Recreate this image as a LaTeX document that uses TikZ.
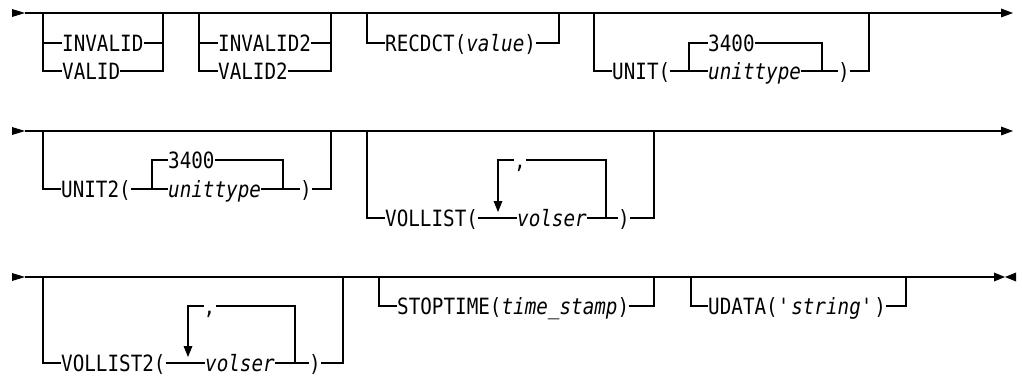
\documentclass[tikz,border=0pt]{standalone}
\usepackage{fontspec}
\newfontfamily\railfont{DejaVu Sans Mono}[FakeStretch=0.86]
\usetikzlibrary{calc}

\tikzset{
  kw/.style={anchor=west, inner sep=0pt, text height=16.3pt, text depth=0pt, font=\railfont\fontsize{22.4}{26}\selectfont},
  var/.style={kw, font=\railfont\itshape\fontsize{22.4}{26}\selectfont},
  rail/.style={line width=1.1pt, black},
}

\begin{document}
\begin{tikzpicture}[x=1pt,y=-1pt]
    \useasboundingbox (0,0) rectangle (1022,377);
    % row 1
    \coordinate (s1) at (25,13); \coordinate (e1) at (1001,13);
    \draw[rail] (s1) -- (e1);
    \coordinate (a1) at (43,13); \coordinate (b1) at (163,13);
    \node[kw] (inv) at (62,43) {INVALID}; \node[kw] (val) at (62,71) {VALID};
    \draw[rail] (a1) |- (val.west); \draw[rail] (a1 |- inv) -- (inv.west);
    \draw[rail] (inv.east) -- (b1 |- inv); \draw[rail] (val.east) -| (b1);
    \coordinate (a2) at (199,13); \coordinate (b2) at (331,13);
    \node[kw] (inv2) at (218,43) {INVALID2}; \node[kw] (val2) at (218,71) {VALID2};
    \draw[rail] (a2) |- (val2.west); \draw[rail] (a2 |- inv2) -- (inv2.west);
    \draw[rail] (inv2.east) -- (b2 |- inv2); \draw[rail] (val2.east) -| (b2);
    \coordinate (a3) at (367,13); \coordinate (b3) at (559,13);
    \node[kw] (rec) at (385,43) {RECDCT(\textit{value})};
    \draw[rail] (a3) |- (rec.west); \draw[rail] (rec.east) -| (b3);
    \coordinate (a4) at (594,13); \coordinate (b4) at (869,13);
    \coordinate (i1) at (689,43); \coordinate (i2) at (822,43);
    \node[kw] (unit) at (612,71) {UNIT(};
    \node[kw] (dflt) at (708,43) {3400}; \node[var] (utype) at (708,71) {unittype};
    \node[kw] (ucls) at (838,71) {)};
    \draw[rail] (a4) |- (unit.west); \draw[rail] (unit.east) -| (i1) -- (dflt.west);
    \draw[rail] (dflt.east) -- (i2) |- (ucls.west);
    \draw[rail] (utype.west) -- (i1 |- utype); \draw[rail] (utype.east) -- (i2 |- utype);
    \draw[rail] (ucls.east) -| (b4);

    % row 2
    \coordinate (s2) at (25,131); \coordinate (e2) at (1001,131);
    \draw[rail] (s2) -- (e2);
    \coordinate (a5) at (43,131); \coordinate (b5) at (331,131);
    \coordinate (i3) at (152,160); \coordinate (i4) at (283,160);
    \node[kw] (unit2) at (61,189) {UNIT2(};
    \node[kw] (dflt2) at (168,160) {3400}; \node[var] (utype2) at (168,189) {unittype};
    \node[kw] (ucls2) at (300,189) {)};
    \draw[rail] (a5) |- (unit2.west); \draw[rail] (unit2.east) -| (i3) -- (dflt2.west);
    \draw[rail] (dflt2.east) -- (i4) |- (ucls2.west);
    \draw[rail] (utype2.west) -- (i3 |- utype2); \draw[rail] (utype2.east) -- (i4 |- utype2);
    \draw[rail] (ucls2.east) -| (b5);
    \coordinate (a6) at (367,131); \coordinate (b6) at (654,131);
    \coordinate (l1) at (498,160); \coordinate (l2) at (606,160);
    \node[kw] (vol) at (385,218) {VOLLIST(}; \node[var] (volser) at (517,218) {volser};
    \node[kw] (sep) at (514,160) {,}; \node[kw] (vcls) at (618,218) {)};
    \draw[rail] (a6) |- (vol.west); \draw[rail] (vol.east) -- (volser.west);
    \draw[rail] (volser.east) -| (l2) -- (sep.east); \draw[rail] (sep.west) -- (l1) -- (498,202);
    \fill (493.5,201) -- (502.5,201) -- (498,212) -- cycle;
    \draw[rail] (l2 |- volser) -- (vcls.west); \draw[rail] (vcls.east) -| (b6);

    % row 3
    \coordinate (s3) at (25,277); \coordinate (e3) at (995,277);
    \draw[rail] (s3) -- (e3); \draw[line width=2pt] (910,277) -- (935,277);
    \coordinate (a7) at (43,277); \coordinate (b7) at (343,277);
    \coordinate (l3) at (188,306); \coordinate (l4) at (295,306);
    \node[kw] (vol2) at (61,363) {VOLLIST2(}; \node[var] (volser2) at (205,363) {volser};
    \node[kw] (sep2) at (203.5,306) {,}; \node[kw] (vcls2) at (309,363) {)};
    \draw[rail] (a7) |- (vol2.west); \draw[rail] (vol2.east) -- (volser2.west);
    \draw[rail] (volser2.east) -| (l4) -- (sep2.east); \draw[rail] (sep2.west) -- (l3) -- (188,347);
    \fill (183.5,346) -- (192.5,346) -- (188,357) -- cycle;
    \draw[rail] (l4 |- volser2) -- (vcls2.west); \draw[rail] (vcls2.east) -| (b7);
    \coordinate (a8) at (379,277); \coordinate (b8) at (654,277);
    \node[kw] (stop) at (397,306) {STOPTIME(\textit{time\_stamp})};
    \draw[rail] (a8) |- (stop.west); \draw[rail] (stop.east) -| (b8);
    \coordinate (a9) at (691,277); \coordinate (b9) at (906,277);
    \node[kw] (udata) at (708,306) {UDATA(\textquotesingle\textit{string}\textquotesingle)};
    \draw[rail] (a9) |- (udata.west); \draw[rail] (udata.east) -| (b9);

    % arrows
    \foreach \y in {13,131,277} \fill (12,\y-4) -- (25,\y) -- (12,\y+4) -- cycle;
    \foreach \y in {13,131} \fill (1001,\y-4.5) -- (1013,\y) -- (1001,\y+4.5) -- cycle;
    \fill (994,272.5) -- (1005,277) -- (994,281.5) -- cycle;
    \fill (1016,272.5) -- (1005,277) -- (1016,281.5) -- cycle;
\end{tikzpicture}
\end{document}
